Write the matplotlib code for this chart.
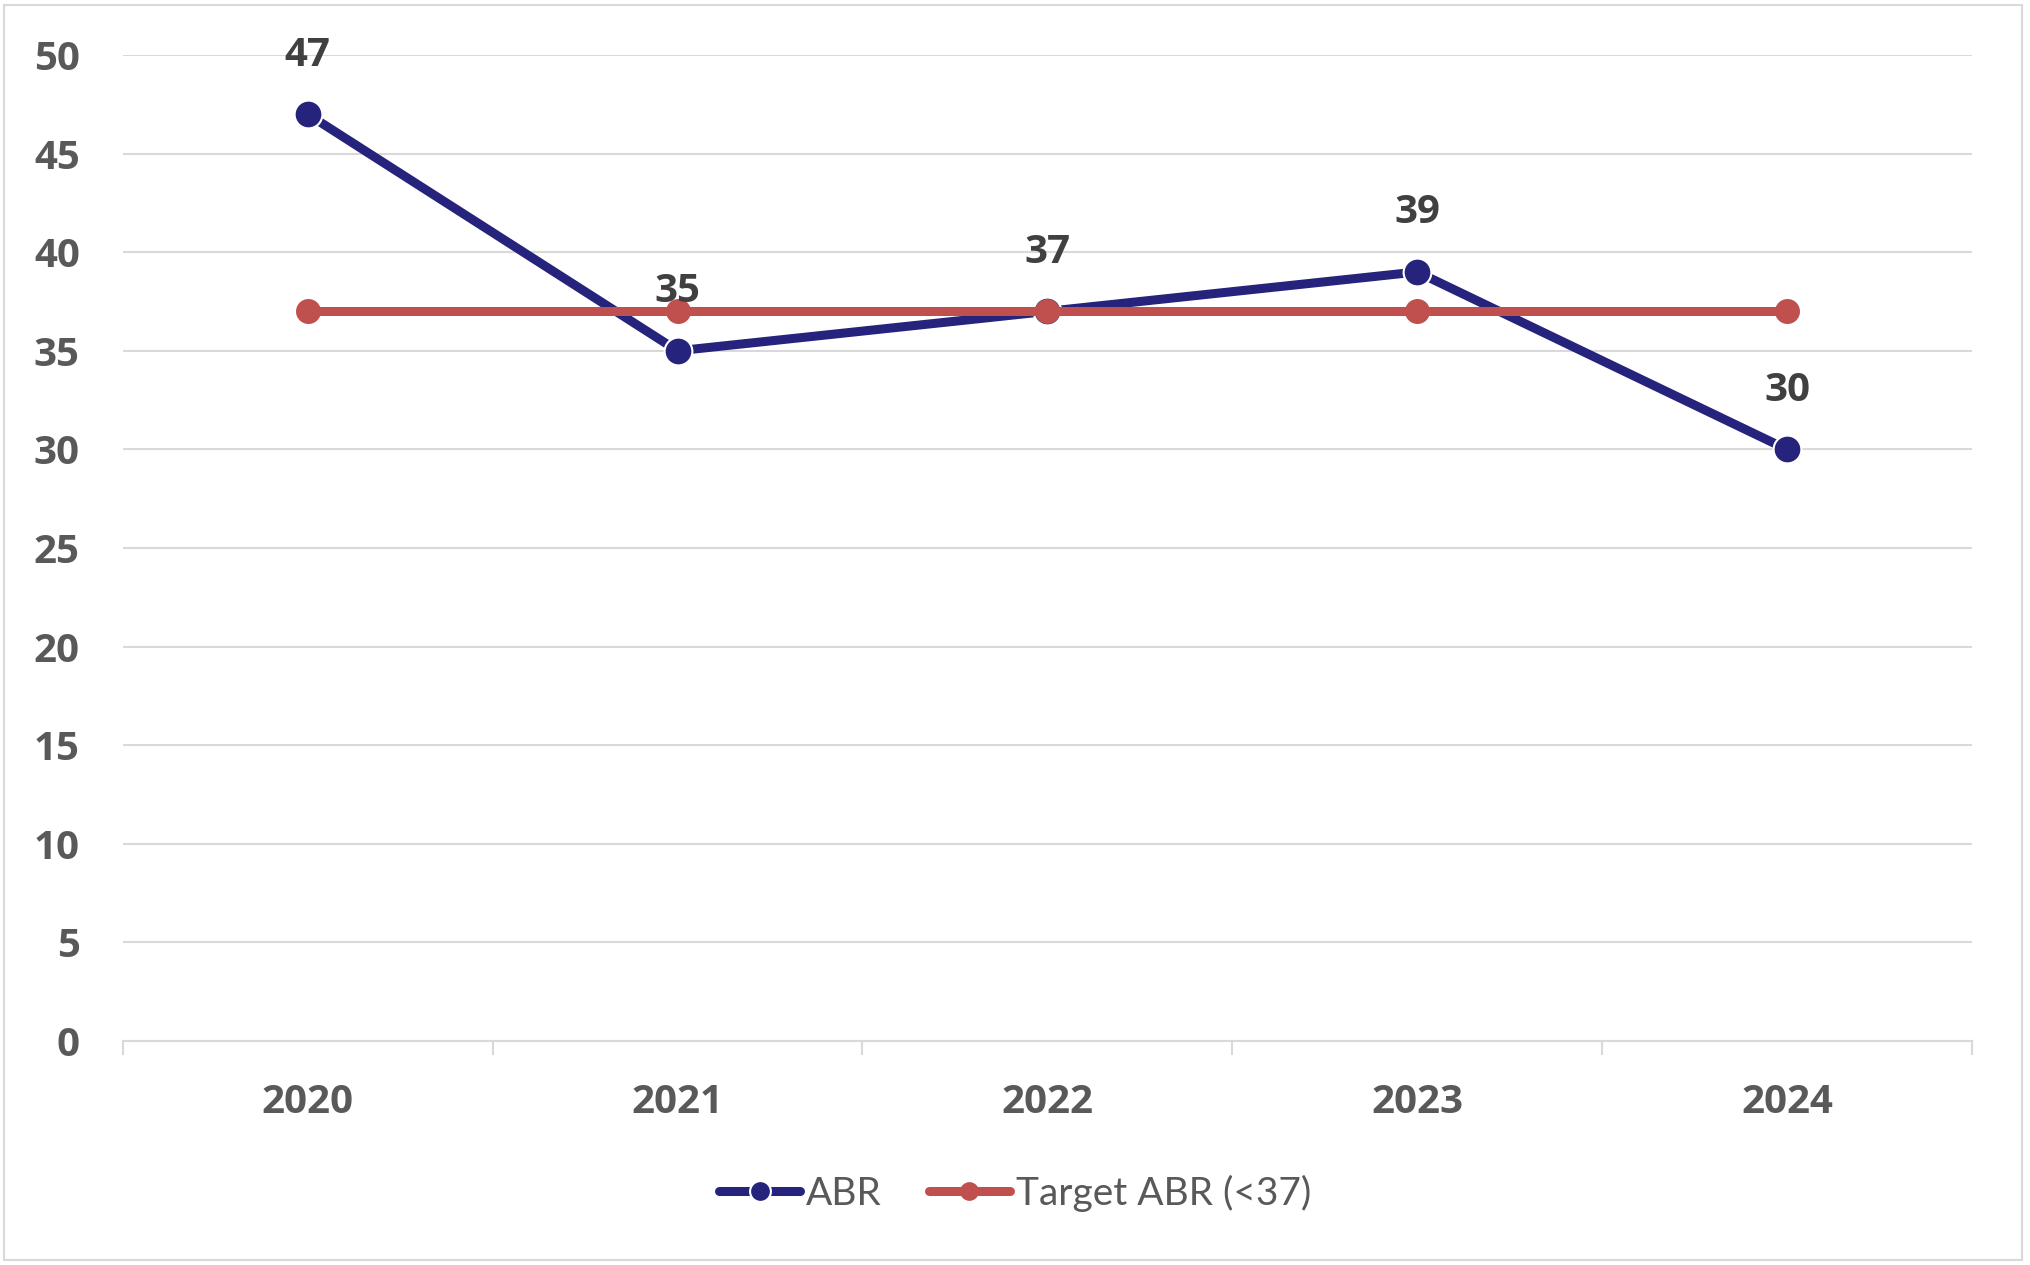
import matplotlib
matplotlib.use("Agg")
import matplotlib.pyplot as plt
from matplotlib.patches import Rectangle

years = ["2020", "2021", "2022", "2023", "2024"]
abr = [47, 35, 37, 39, 30]
target = [37, 37, 37, 37, 37]
y_ticks = [0, 5, 10, 15, 20, 25, 30, 35, 40, 45, 50]

plt.rcParams["font.family"] = ["Lato", "DejaVu Sans"]
BOLD_FONT = ["Open Sans", "DejaVu Sans"]

BLUE = "#25237B"
RED = "#C0504D"
GRID = "#D9D9D9"
TICK_TXT = "#595959"
LABEL_TXT = "#404040"

fig = plt.figure(figsize=(20.3, 12.65), dpi=100)
ax = fig.add_axes([0.0605, 0.1771, 0.9109, 0.7794])

x = list(range(len(years)))

ax.plot(x, abr, color=BLUE, lw=6.5, marker="o", ms=20, mfc=BLUE,
        mec="white", mew=1.5, solid_capstyle="round", label="ABR", zorder=3)
ax.plot(x, target, color=RED, lw=6.5, marker="o", ms=18, mfc=RED,
        mec=RED, mew=0, solid_capstyle="round", label="Target ABR (<37)", zorder=4)

# data labels for ABR
for xi, v in zip(x, abr):
    ax.annotate(str(v), (xi, v), xytext=(0, 35), textcoords="offset points",
                ha="center", va="baseline", fontsize=29, fontweight="bold",
                family=BOLD_FONT, color=LABEL_TXT, zorder=5)

ax.set_xlim(-0.5, len(years) - 0.5)
ax.set_ylim(0, 50)

# category axis: tick marks between categories, labels at centers
ax.set_xticks([i - 0.5 for i in range(len(years) + 1)])
ax.set_xticklabels([])
ax.set_xticks(x, minor=True)
ax.set_xticklabels(years, minor=True, fontsize=29, fontweight="bold",
                   family=BOLD_FONT, color=TICK_TXT)
ax.tick_params(axis="x", which="major", direction="out", length=10, width=1.5, color=GRID)
ax.tick_params(axis="x", which="minor", length=0, pad=30)

ax.set_yticks(y_ticks)
ax.set_yticklabels([str(t) for t in y_ticks], fontsize=29, fontweight="bold",
                   family=BOLD_FONT, color=TICK_TXT)
ax.tick_params(axis="y", length=0, pad=31)
ax.yaxis.grid(True, color=GRID, lw=1.5)
ax.set_axisbelow(True)

for s in ["left", "top", "right"]:
    ax.spines[s].set_visible(False)
ax.spines["bottom"].set_color(GRID)
ax.spines["bottom"].set_linewidth(1.5)

leg = fig.legend(loc="center", bbox_to_anchor=(0.5, 1 - 1193 / 1265), ncol=2,
                 frameon=False, fontsize=28, handlelength=2.1, handletextpad=0.15,
                 columnspacing=1.2, markerscale=0.75)
for t in leg.get_texts():
    t.set_color(TICK_TXT)

# outer chart border
fig.patches.append(Rectangle((4 / 2030, 5 / 1265), 2018 / 2030, 1255 / 1265,
                             transform=fig.transFigure, fill=False,
                             edgecolor=GRID, lw=1.5))

fig.savefig("out.png", dpi=100, facecolor="white")
